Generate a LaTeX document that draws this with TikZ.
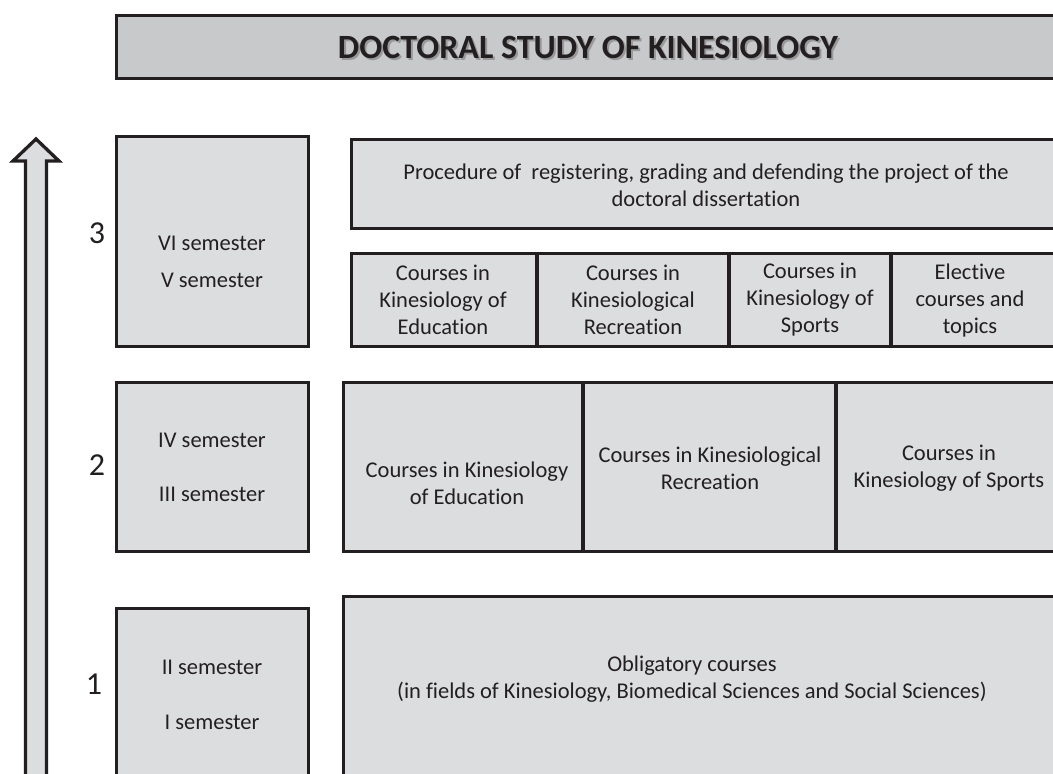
\documentclass[tikz,border=0pt]{standalone}
\usepackage{fontspec}
\setmainfont[Ligatures=NoCommon]{Carlito}
\definecolor{boxfill}{RGB}{220,221,223}
\definecolor{titlefill}{RGB}{200,201,203}
\definecolor{edge}{RGB}{35,31,32}
\definecolor{txt}{RGB}{35,31,32}
\begin{document}
\begin{tikzpicture}[x=1pt,y=-1pt,
  box/.style={draw=edge,line width=3.3pt,fill=boxfill,inner sep=0pt,outer sep=0pt,anchor=north west},
  lbl/.style={text=txt,align=center,inner sep=0pt,font=\fontsize{22.5}{27}\selectfont},
  num/.style={text=txt,inner sep=0pt,font=\fontsize{32}{36}\selectfont},
  ttl/.style={inner sep=0pt,font=\fontsize{34}{40}\selectfont\bfseries}]
\useasboundingbox (0,0) rectangle (1053,774);
\clip (0,0) rectangle (1053,774);
\fill[white] (0,0) rectangle (1053,774);
% title
\node[box,fill=titlefill,minimum width=960pt,minimum height=63pt] (title) at (116.5,15.5) {};
\node[ttl,text=black!40] (titleshadow) at (590,49.5) {DOCTORAL STUDY OF KINESIOLOGY};
\node[ttl,text=txt] (titletext) at (588,47.5) {DOCTORAL STUDY OF KINESIOLOGY};
% arrow
\draw[draw=edge,line width=3.3pt,fill=boxfill,line join=miter]
  (25.5,800) coordinate (arrbase) -- (25.5,161) -- (13,161) -- (36,139) coordinate (arrtip)
  -- (59,161) -- (46.5,161) -- (46.5,800) -- cycle;
% semester boxes
\node[box,minimum width=192pt,minimum height=210pt] (sem3) at (116.5,136.5) {};
\node[box,minimum width=192pt,minimum height=169pt] (sem2) at (116.5,382.5) {};
\node[box,minimum width=192pt,minimum height=200pt] (sem1) at (116.5,608.5) {};
\node[lbl] (s6) at (212,243) {VI semester};
\node[lbl] (s5) at (212,280) {V semester};
\node[lbl] (s4) at (212,440) {IV semester};
\node[lbl] (s3) at (212,494) {III semester};
\node[lbl] (s2) at (212,667) {II semester};
\node[lbl] (s1) at (212,722) {I semester};
% numbers
\node[num] (n3) at (97,233) {3};
\node[num] (n2) at (97,465) {2};
\node[num] (n1) at (94,684) {1};
% year 3
\node[box,minimum width=720pt,minimum height=89pt] (proc) at (351.5,139.5) {};
\node[lbl] (proct) at (706,185) {Procedure of \ registering, grading and defending the project of the\\doctoral dissertation};
\node[box,minimum width=185.5pt,minimum height=93pt] (c31) at (351.5,253.5) {};
\node[box,minimum width=192pt,minimum height=93pt] (c32) at (537,253.5) {};
\node[box,minimum width=162pt,minimum height=93pt] (c33) at (729,253.5) {};
\node[box,minimum width=180pt,minimum height=93pt] (c34) at (891,253.5) {};
\node[lbl] (t31) at (443,300) {Courses in\\Kinesiology of\\Education};
\node[lbl] (t32) at (633,300) {Courses in\\Kinesiological\\Recreation};
\node[lbl] (t33) at (810,300) {Courses in\\Kinesiology of\\Sports};
\node[lbl] (t34) at (970,300) {Elective\\courses and\\topics};
% year 2
\node[box,minimum width=239.5pt,minimum height=169pt] (c21) at (343.5,382.5) {};
\node[box,minimum width=253pt,minimum height=169pt] (c22) at (583,382.5) {};
\node[box,minimum width=240pt,minimum height=169pt] (c23) at (836,382.5) {};
\node[lbl] (t21) at (467,483.5) {Courses in Kinesiology\\of Education};
\node[lbl] (t22) at (710,468) {Courses in Kinesiological\\Recreation};
\node[lbl] (t23) at (949,468.5) {Courses in\\Kinesiology of Sports};
% year 1
\node[box,minimum width=730pt,minimum height=210pt] (c11) at (343.5,596.5) {};
\node[lbl] (t11) at (692,679) {Obligatory courses\\(in fields of Kinesiology, Biomedical Sciences and Social Sciences)};
\end{tikzpicture}
\end{document}
